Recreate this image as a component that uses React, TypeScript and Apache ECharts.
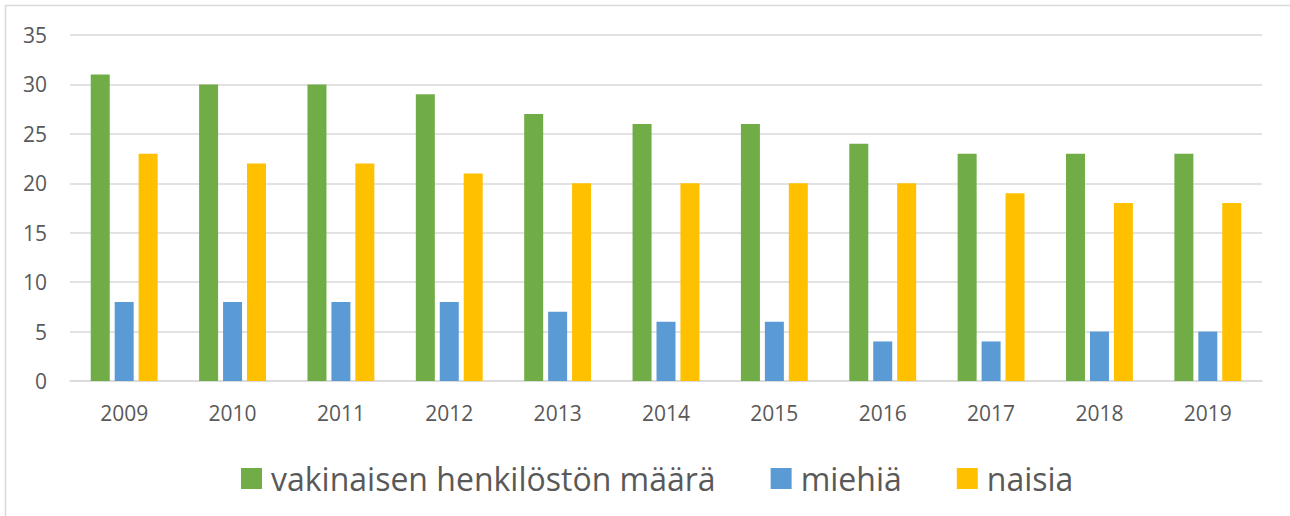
import React, { useEffect, useRef } from "react";
import * as echarts from "echarts";

const years = ["2009", "2010", "2011", "2012", "2013", "2014", "2015", "2016", "2017", "2018", "2019"];
const seriesNames = ["vakinaisen henkilöstön määrä", "miehiä", "naisia"];
const vakinaiset = [31, 30, 30, 29, 27, 26, 26, 24, 23, 23, 23];
const miehia = [8, 8, 8, 8, 7, 6, 6, 4, 4, 5, 5];
const naisia = [23, 22, 22, 21, 20, 20, 20, 20, 19, 18, 18];
const colors = ["#70AD47", "#5B9BD5", "#FFC000"];

const FONT = "'Open Sans', 'Noto Sans', sans-serif";

export default function App() {
  const ref = useRef<HTMLDivElement>(null);
  useEffect(() => {
    if (!ref.current) return;
    const chart = echarts.init(ref.current, undefined, { renderer: "svg" });
    const values = [vakinaiset, miehia, naisia];
    chart.setOption({
      animation: false,
      backgroundColor: "#ffffff",
      graphic: [
        {
          type: "rect",
          shape: { x: 5.5, y: 5.5, width: 1400, height: 700 },
          style: { fill: "none", stroke: "#d9d9d9", lineWidth: 1.5 },
          silent: true,
        },
      ],
      grid: { left: 70, right: 28, top: 35, bottom: 135, containLabel: false },
      legend: {
        left: 236,
        top: 457,
        itemWidth: 21,
        itemHeight: 21,
        itemGap: 55,
        icon: "rect",
        data: seriesNames,
        textStyle: {
          fontFamily: FONT,
          fontSize: 32,
          color: "#595959",
          lineHeight: 33,
          padding: [0, 0, 0, 4],
        },
      },
      xAxis: {
        type: "category",
        data: years,
        axisTick: { show: false },
        axisLine: { lineStyle: { color: "#d9d9d9", width: 1.5 } },
        axisLabel: { fontFamily: FONT, fontSize: 21, color: "#595959", margin: 21 },
      },
      yAxis: {
        type: "value",
        min: 0,
        max: 35,
        interval: 5,
        axisLine: { show: false },
        axisTick: { show: false },
        splitLine: { lineStyle: { color: "#d9d9d9", width: 1.5 } },
        axisLabel: { fontFamily: FONT, fontSize: 21, color: "#595959", margin: 23 },
      },
      series: seriesNames.map((name, i) => ({
        name,
        type: "bar",
        data: values[i],
        barWidth: 19,
        barGap: "26%",
        itemStyle: { color: colors[i] },
      })),
    });
    return () => chart.dispose();
  }, []);
  return (
    <div
      ref={ref}
      style={{ position: "fixed", left: 0, top: 0, width: 1290, height: 516 }}
    />
  );
}
